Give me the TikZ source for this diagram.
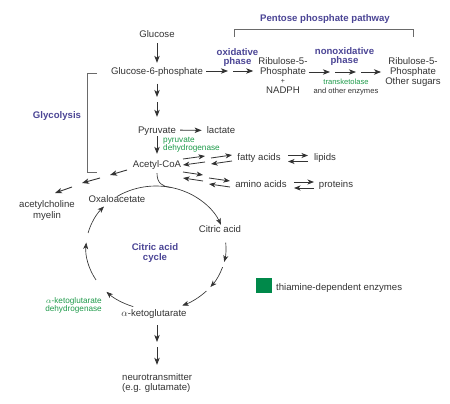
\documentclass[tikz,border=0pt]{standalone}
\usepackage{fontspec}
\setmainfont{Liberation Sans}
\usetikzlibrary{arrows.meta,calc}
\definecolor{ink}{HTML}{333333}
\definecolor{pathway}{HTML}{4B4595}
\definecolor{enz}{HTML}{1E9A4A}
\definecolor{thia}{HTML}{00894A}
\definecolor{rule}{HTML}{6A6A6A}

\tikzset{
  lbl/.style={inner sep=0pt,text=ink,font=\fontsize{9.6}{10}\selectfont,text height=6.9pt,text depth=0pt},
  multi/.style={inner sep=0pt,text=ink,font=\fontsize{9.6}{10}\selectfont,align=center},
  hd/.style={inner sep=0pt,text=pathway,font=\fontsize{9.6}{9}\selectfont\bfseries,align=center},
  enzl/.style={inner sep=0pt,text=enz,font=\fontsize{8.2}{8}\selectfont},
  arr/.style={draw=ink,line width=0.9pt,-{Stealth[length=7pt,width=5.4pt,inset=1.8pt]}},
  eq/.style={draw=ink,line width=0.8pt,-{Stealth[length=6.5pt,width=5pt,inset=1.8pt]}},
  cyc/.style={draw=ink,line width=0.65pt,-{Stealth[length=6.5pt,width=5pt,inset=1.8pt]}},
  brk/.style={draw=rule,line width=0.9pt},
  keybox/.style={fill=thia,inner sep=0pt,minimum width=16pt,minimum height=15pt},
}

\begin{document}
\begin{tikzpicture}[x=1pt,y=-1pt]
\useasboundingbox (0,0) rectangle (450,404);

% main chain
\node[lbl] (glc) at (157,34) {Glucose};
\node[lbl] (g6p) at (157,71) {Glucose-6-phosphate};
\node[lbl] (pyr) at (157,130) {Pyruvate};
\node[lbl] (lac) at (221,130.5) {lactate};
\node[lbl] (acoa) at (157,164) {Acetyl-CoA};
\node[enzl,align=left,anchor=west] (pdh) at (163,145) {pyruvate\\dehydrogenase};

% pentose phosphate pathway
\node[hd] (ppp) at (325,19) {Pentose phosphate pathway};
\node[hd] (oxph) at (237.5,57.5) {oxidative\\phase};
\node[hd] (noxph) at (344.5,56.5) {nonoxidative\\phase};
\node[multi,font=\fontsize{9.6}{9.7}\selectfont] (rib) at (283,75.5) {Ribulose-5-\\Phosphate\\{\scriptsize +}\\NADPH};
\node[multi] (sug) at (413,72) {Ribulose-5-\\Phosphate\\Other sugars};
\node[multi,font=\fontsize{7.6}{9}\selectfont] (tkt) at (346,87.3) {\textcolor{enz}{transketolase}\\and other enzymes};
\draw[brk] (234,37) -- (234,29) -- (413,29) -- (413,37);

% glycolysis bracket
\node[hd] (gly) at (57,116) {Glycolysis};
\draw[brk] (97,73) -- (87,73) -- (87,172) -- (97,172);

% side products
\node[lbl] (fat) at (259,157) {fatty acids};
\node[lbl] (lip) at (325,157) {lipids};
\node[lbl] (amino) at (261,184) {amino acids};
\node[lbl] (prot) at (336,184) {proteins};
\node[multi,font=\fontsize{9.6}{11}\selectfont] (ach) at (47,210.5) {acetylcholine\\myelin};

% citric acid cycle
\coordinate (cc) at (156,248);
\node[lbl] (oxa) at (117,199) {Oxaloacetate};
\node[lbl] (cit) at (220,229) {Citric acid};
\node[lbl] (akg) at (154,313) {$\alpha$-ketoglutarate};
\node[hd,font=\fontsize{9.6}{10}\selectfont\bfseries] (tca) at (155,253) {Citric acid\\cycle};
\node[enzl,align=right,anchor=east] (kgdh) at (102,305) {$\alpha$-ketoglutarate\\dehydrogenase};
\node[multi,align=left,anchor=west] (nt) at (122,383) {neurotransmitter\\(e.g. glutamate)};

% legend
\node[keybox] (key) at (264,285.5) {};
\node[lbl,anchor=west] (keytxt) at (276,287) {thiamine-dependent enzymes};

% arrows down the chain
\coordinate (gp) at (157,99.5);
\draw[arr,shorten <=5.5pt,shorten >=4.5pt] (glc) -- (g6p);
\draw[arr,shorten <=9pt,shorten >=2.5pt] (g6p) -- (gp);
\draw[arr,shorten <=2.5pt,shorten >=9.5pt] (gp) -- (pyr);
\draw[arr,shorten <=2.5pt,shorten >=6.5pt] (pyr) -- (acoa);
\draw[arr,shorten <=4pt,shorten >=5pt] (pyr) -- (lac);

% pentose arrows
\coordinate (ox) at (230.5,71);
\coordinate (nx1) at (332.5,72);
\coordinate (nx2) at (358.5,72);
\draw[arr,shorten <=3pt,shorten >=2.5pt] (g6p.east) -- (ox);
\draw[arr,shorten <=2.5pt,shorten >=5pt] (ox) -- (ox -| rib.west);
\draw[arr,shorten <=1pt,shorten >=2.5pt] (nx1 -| rib.east) -- (nx1);
\draw[arr,shorten <=2.5pt,shorten >=2.5pt] (nx1) -- (nx2);
\draw[arr,shorten <=2.5pt,shorten >=4pt] (nx2) -- (nx2 -| sug.west);

% reversible steps
\foreach \xa/\ya/\xb/\yb in {183/159/205/156,211/158/232/155,288/155.5/308/155.5,183/172/203/175,209/178/230/181,294/182/314/182} {
  \draw[eq] (\xa,\ya) -- (\xb,\yb);
  \draw[eq] (\xb,\yb+6) -- (\xa,\ya+6);
}

% towards acetylcholine
\foreach \xa/\ya/\xb/\yb in {127/170/110/175,100/178/82/183,72/187/55/193}
  \draw[arr] (\xa,\ya) -- (\xb,\yb);

% cycle
\coordinate (join) at ($(cc)+(-78:70 and 62)$);
\draw[draw=ink,line width=0.65pt,shorten <=5.5pt] (acoa.south) .. controls (157,183) and (162,186.5) .. (join);
\foreach \a/\b in {-124/-22,-5/13,18/39,44/68,109/135,149/185,194/222}
  \draw[cyc] ($(cc)+(\a:70 and 62)$) arc[start angle=\a,end angle=\b,x radius=70,y radius=62];

% to neurotransmitter
\coordinate (an) at (157,344.5);
\draw[arr,shorten <=8.5pt,shorten >=2.5pt] (an |- akg.south) -- (an);
\draw[arr,shorten <=2.5pt,shorten >=8.5pt] (an) -- (an |- nt.north);
\end{tikzpicture}
\end{document}
